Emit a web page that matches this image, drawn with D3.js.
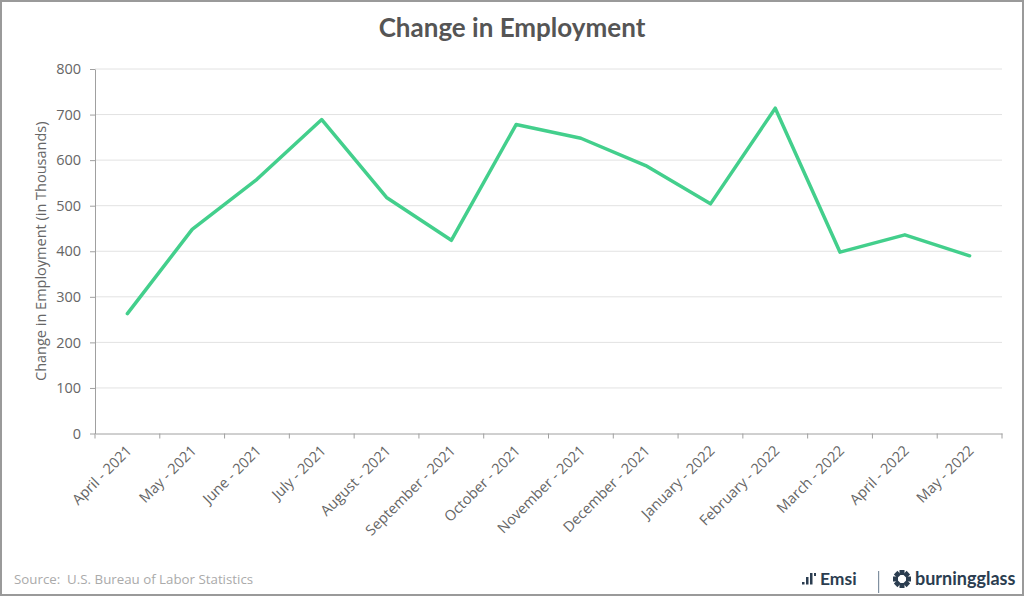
<!DOCTYPE html>
<html><head><meta charset="utf-8">
<script src="https://cdn.jsdelivr.net/npm/d3@7"></script>
<style>body{margin:0;background:#fff}svg{display:block}</style>
</head><body>
<svg id="c" width="1024" height="596"></svg>
<script>
const categories = ["April - 2021","May - 2021","June - 2021","July - 2021","August - 2021","September - 2021","October - 2021","November - 2021","December - 2021","January - 2022","February - 2022","March - 2022","April - 2022","May - 2022"];
const employment = [263, 448, 558, 689, 518, 424, 678, 648, 588, 504, 714, 398, 436, 390];
const yTicks = [0,100,200,300,400,500,600,700,800];

const svg = d3.select("#c");
const W = 1024, H = 596;
const m = {l:95, r:1002, t:69, b:433.5};
const font = "'Open Sans', Lato, sans-serif";
const tfont = "Lato, 'Open Sans', sans-serif";

svg.append("rect").attr("x",1).attr("y",1).attr("width",W-2).attr("height",H-2)
  .attr("fill","#fff").attr("stroke","#9a9a9a").attr("stroke-width",2);

svg.append("text").attr("x",512).attr("y",37).attr("text-anchor","middle")
  .attr("font-family",tfont).attr("font-weight","bold").attr("font-size",26)
  .attr("fill","#555").text("Change in Employment");

const x = d3.scaleBand().domain(categories).range([m.l,m.r]);
const y = d3.scaleLinear().domain([0,800]).range([m.b,m.t]);

// grid
svg.append("g").selectAll("line").data(yTicks.filter(d=>d>0)).join("line")
  .attr("x1",m.l).attr("x2",m.r).attr("y1",d=>y(d)).attr("y2",d=>y(d))
  .attr("stroke","#e2e2e2").attr("stroke-width",1);

const yAxis = svg.append("g").attr("transform",`translate(${m.l},0)`)
  .call(d3.axisLeft(y).tickValues(yTicks).tickSize(5).tickPadding(9).tickSizeOuter(0));
yAxis.select(".domain").attr("stroke","#a0a0a0");
yAxis.selectAll(".tick line").attr("stroke","#a0a0a0");
yAxis.selectAll("text").attr("font-family",font).attr("font-size",14.5).attr("fill","#666");

const xAxis = svg.append("g").attr("transform",`translate(0,${m.b})`)
  .call(d3.axisBottom(x).tickSize(0).tickSizeOuter(0));
xAxis.select(".domain").attr("stroke","#a0a0a0");
xAxis.selectAll(".tick line").remove();
// band edge ticks
svg.append("g").selectAll("line").data(d3.range(categories.length+1)).join("line")
  .attr("x1",i=>m.l+i*x.step()).attr("x2",i=>m.l+i*x.step())
  .attr("y1",m.b).attr("y2",m.b+5).attr("stroke","#a0a0a0");
xAxis.selectAll("text").attr("font-family",font).attr("font-size",14.5).attr("fill","#666")
  .attr("text-anchor","end").attr("dy",0)
  .attr("transform","translate(3,16) rotate(-45)");

svg.append("text").attr("transform",`translate(46,${(m.t+m.b)/2+0}) rotate(-90)`)
  .attr("text-anchor","middle").attr("font-family",font).attr("font-size",14.5)
  .attr("fill","#666").text("Change in Employment (in Thousands)");

const line = d3.line().x((d,i)=>x(categories[i])+x.bandwidth()/2).y(d=>y(d));
svg.append("path").datum(employment).attr("d",line).attr("fill","none")
  .attr("stroke","#43cf8c").attr("stroke-width",3.5).attr("stroke-linejoin","round").attr("stroke-linecap","round");

svg.append("text").attr("x",14).attr("y",584).attr("font-family",font).attr("font-size",13.3)
  .attr("fill","#aaa").style("white-space","pre").text("Source:  U.S. Bureau of Labor Statistics");

// logo
const lg = svg.append("g").attr("fill","#2b3d50");
lg.append("rect").attr("x",802).attr("y",582).attr("width",2.5).attr("height",2.5);
lg.append("rect").attr("x",806).attr("y",577).attr("width",2.5).attr("height",7.5);
lg.append("rect").attr("x",810).attr("y",573).attr("width",2.5).attr("height",11.5);
lg.append("rect").attr("x",814).attr("y",573).attr("width",2).attr("height",3);
lg.append("text").attr("x",820).attr("y",585).attr("font-family",tfont).attr("font-weight","bold")
  .attr("font-size",17.5).text("Emsi");
lg.append("rect").attr("x",878).attr("y",571).attr("width",1.2).attr("height",22).attr("fill","#8090a0");
const ring = lg.append("g").attr("transform","translate(902,579)");
d3.range(8).forEach(k=>{
  ring.append("rect").attr("x",-2.5).attr("y",-9).attr("width",5).attr("height",5)
    .attr("transform",`rotate(${k*45})`);
});
lg.append("text").attr("x",915).attr("y",585).attr("font-family",tfont).attr("font-weight","bold")
  .attr("font-size",18).text("burningglass");
</script>
</body></html>
